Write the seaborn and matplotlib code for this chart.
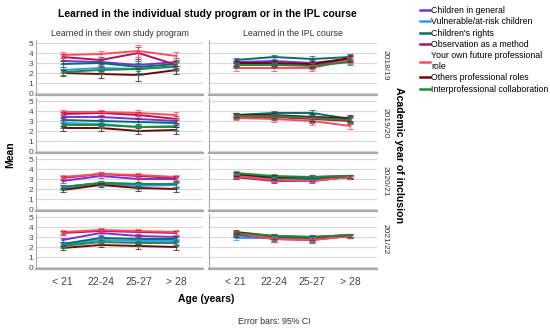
import numpy as np
import pandas as pd
import matplotlib
matplotlib.use("Agg")
import matplotlib.pyplot as plt
import seaborn as sns

# Categories
ages = ["< 21", "22-24", "25-27", "> 28"]
years = ["2018/19", "2019/20", "2020/21", "2021/22"]
courses = ["Learned in their own study program", "Learned in the IPL course"]
series = ["Children in general", "Vulnerable/at-risk children", "Children's rights",
          "Observation as a method", "Your own future professional role",
          "Others professional roles", "Interprofessional collaboration"]
legend_labels = ["Children in general", "Vulnerable/at-risk children", "Children's rights",
                 "Observation as a method", "Your own future professional\nrole",
                 "Others professional roles", "Interprofessional collaboration"]
colors = ["#7a2fe0", "#2f9bff", "#006e6b", "#b3164f", "#ff4d5e", "#6b0a0a", "#1f8c3c"]

# Means (rows follow `series`, columns follow `ages`)
own_1819 = [[3.2, 3.1, 2.8, 3.1], [2.3, 2.5, 2.4, 2.6], [2.9, 3.0, 2.6, 2.9],
            [3.6, 3.3, 4.0, 2.8], [3.8, 3.9, 4.2, 3.7], [2.0, 1.9, 1.8, 2.3],
            [2.1, 2.3, 2.4, 2.7]]
own_1920 = [[3.4, 3.4, 3.2, 3.0], [2.8, 2.7, 2.4, 2.5], [3.1, 3.0, 2.9, 2.8],
            [3.7, 3.8, 3.6, 3.2], [3.9, 3.9, 3.8, 3.6], [2.3, 2.3, 2.0, 2.1],
            [2.6, 2.6, 2.4, 2.4]]
own_2021 = [[2.8, 3.3, 3.0, 3.0], [2.1, 2.5, 2.3, 2.4], [2.2, 2.6, 2.5, 2.5],
            [3.1, 3.5, 3.3, 3.1], [3.2, 3.5, 3.4, 3.2], [1.9, 2.4, 2.1, 2.0],
            [2.2, 2.6, 2.5, 2.5]]
own_2122 = [[2.7, 3.4, 3.1, 3.0], [2.2, 2.7, 2.6, 2.6], [2.3, 2.9, 2.8, 2.8],
            [3.4, 3.6, 3.5, 3.4], [3.5, 3.7, 3.6, 3.5], [1.9, 2.2, 2.1, 2.0],
            [2.1, 2.5, 2.4, 2.4]]
ipl_1819 = [[3.1, 3.2, 3.0, 3.4], [2.9, 2.9, 2.8, 3.2], [3.3, 3.6, 3.4, 3.6],
            [2.9, 2.9, 2.8, 3.4], [2.5, 2.5, 2.5, 3.3], [3.0, 3.0, 2.9, 3.5],
            [2.8, 2.8, 2.7, 3.1]]
ipl_1920 = [[3.5, 3.5, 3.3, 3.1], [3.5, 3.5, 3.4, 3.2], [3.6, 3.8, 3.8, 3.2],
            [3.4, 3.4, 3.2, 3.0], [3.3, 3.2, 3.0, 2.5], [3.6, 3.6, 3.4, 3.3],
            [3.5, 3.5, 3.3, 3.1]]
ipl_2021 = [[3.2, 2.9, 2.9, 3.2], [3.3, 3.0, 3.0, 3.3], [3.4, 3.1, 3.0, 3.3],
            [3.2, 2.8, 2.8, 3.2], [3.3, 2.9, 2.8, 3.2], [3.5, 3.2, 3.2, 3.3],
            [3.6, 3.3, 3.2, 3.3]]
ipl_2122 = [[3.2, 2.9, 2.8, 3.1], [2.9, 2.9, 2.8, 3.1], [3.2, 3.0, 2.9, 3.1],
            [3.3, 2.8, 2.7, 3.1], [3.4, 2.8, 2.7, 3.1], [3.5, 3.1, 3.0, 3.2],
            [3.4, 3.1, 3.0, 3.2]]

# 95% CI half-widths per age group
ci_own = [[0.3, 0.35, 0.6, 0.4], [0.25, 0.25, 0.3, 0.35],
          [0.2, 0.2, 0.25, 0.25], [0.2, 0.2, 0.25, 0.25]]
ci_ipl = [[0.25, 0.25, 0.3, 0.3], [0.2, 0.25, 0.35, 0.3],
          [0.2, 0.2, 0.2, 0.15], [0.2, 0.25, 0.25, 0.15]]

own = [own_1819, own_1920, own_2021, own_2122]
ipl = [ipl_1819, ipl_1920, ipl_2021, ipl_2122]

rows = []
for c, block in enumerate([own, ipl]):
    cis = [ci_own, ci_ipl][c]
    for y, panel in enumerate(block):
        for s, vals in enumerate(panel):
            for a, v in enumerate(vals):
                rows.append({"course": courses[c], "year": years[y], "series": series[s],
                             "age": ages[a], "mean": v, "ci": cis[y][a]})
df = pd.DataFrame(rows)

plt.rcParams["font.family"] = ["Liberation Sans", "DejaVu Sans"]

fig = plt.figure(figsize=(5.5, 3.3), dpi=100)
W, H = 550, 330
col_x = [36, 209]
col_w = [167, 168]
row_top = [40, 98, 156, 214]
row_h = 55
pal = dict(zip(series, colors))

for c in range(2):
    for r in range(4):
        ax = fig.add_axes([col_x[c] / W, 1 - (row_top[r] + row_h) / H, col_w[c] / W, row_h / H])
        sub = df[(df.course == courses[c]) & (df.year == years[r])]
        sns.lineplot(data=sub, x="age", y="mean", hue="series", hue_order=series,
                     palette=pal, linewidth=1.4, legend=False, ax=ax, sort=False)
        for s in series:
            d = sub[sub.series == s]
            ax.errorbar(range(4), d["mean"], yerr=d["ci"], fmt="none", ecolor=pal[s],
                        elinewidth=0.8, capsize=2.5, capthick=0.8, alpha=0.75)
        ax.set_xlim(-0.7, 3.7)
        ax.set_ylim(-0.2, 5.3)
        ax.set_yticks(range(6))
        ax.grid(axis="y", color="#d9d9d9", linewidth=0.8)
        ax.set_axisbelow(True)
        for sp in ["top", "right"]:
            ax.spines[sp].set_visible(False)
        ax.spines["left"].set_color("#aaaaaa")
        ax.spines["bottom"].set_color("#aaaaaa")
        ax.spines["bottom"].set_linewidth(1.6)
        ax.set_xlabel("")
        ax.set_ylabel("")
        ax.tick_params(length=0, pad=2, colors="#444444")
        ax.set_xticks(range(4))
        if r == 3:
            ax.set_xticklabels(ages, fontsize=7.5)
            ax.tick_params(axis="x", pad=6)
        else:
            ax.set_xticklabels([])
        if c == 0:
            ax.tick_params(axis="y", labelsize=6)
        else:
            ax.set_yticklabels([])
            ax.text(1.03, 0.55, years[r], transform=ax.transAxes, rotation=270,
                    va="center", ha="left", fontsize=6, color="#333333")
        if r == 0:
            ax.set_title(courses[c], fontsize=6.3, color="#333333", pad=3)

fig.text(207 / W, 1 - 14 / H, "Learned in the individual study program or in the IPL course",
         ha="center", va="center", fontsize=7.5, fontweight="bold")
fig.text(10 / W, 1 - 155 / H, "Mean", rotation=90, ha="center", va="center",
         fontsize=7.5, fontweight="bold")
fig.text(206 / W, 1 - 299 / H, "Age (years)", ha="center", va="center",
         fontsize=7.5, fontweight="bold")
fig.text(399 / W, 1 - 155 / H, "Academic year of inclusion", rotation=270, ha="center",
         va="center", fontsize=7.6, fontweight="bold")
fig.text(274 / W, 1 - 322 / H, "Error bars: 95% CI", ha="center", va="center",
         fontsize=6.3, color="#333333")

handles = [plt.Line2D([0], [0], color=col, linewidth=1.8) for col in colors]
fig.legend(handles, legend_labels, loc="upper left", bbox_to_anchor=(420 / W, 1 - 6 / H),
           frameon=False, fontsize=6.3, handlelength=1.1, handletextpad=0.2,
           labelspacing=0.27, borderaxespad=0, borderpad=0)

fig.savefig("out.png", dpi=100)
